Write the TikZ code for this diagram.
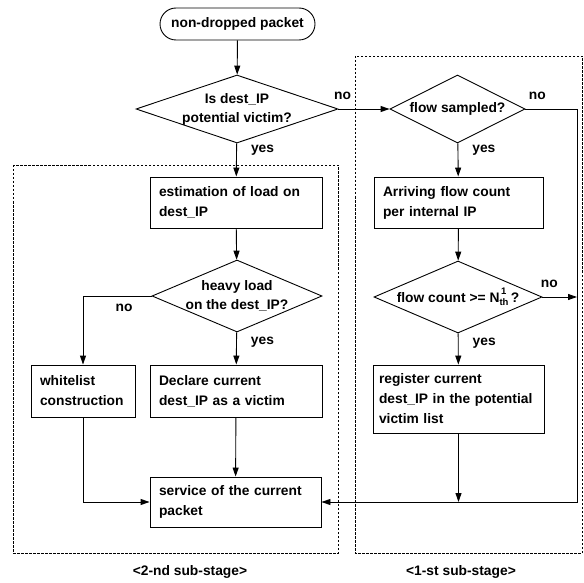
\documentclass[tikz,border=0pt]{standalone}
\usepackage{fontspec}
\setmainfont{Liberation Sans}
\usetikzlibrary{arrows.meta, positioning, shapes.geometric}
\tikzset{
  proc/.style={draw, inner xsep=9pt, inner ysep=0pt, align=left, minimum height=51pt,
               execute at begin node={\hyphenpenalty=10000}},
  term/.style={draw, rounded corners=16pt, minimum width=155pt, minimum height=32pt, inner sep=0pt},
  dec/.style={draw, diamond, inner sep=0pt},
  declbl/.style={align=center, inner sep=0pt, font=\bfseries\fontsize{13.8}{19}\selectfont},
  lbl/.style={inner sep=0pt},
  flow/.style={-{Triangle[length=9pt,width=6pt]}},
  stage/.style={dash pattern=on 2.5pt off 1.5pt, line width=0.6pt},
}
\begin{document}
\begin{tikzpicture}[x=1pt, y=-1pt, line width=0.9pt,
    every node/.style={font=\bfseries\fontsize{13.8}{20}\selectfont}]
    \useasboundingbox (0,0) rectangle (584,583);
    % sub-stage frames
    \draw[stage] (13,165) rectangle (338,553);
    \draw[stage] (355,56) rectangle (582,553);
    \node (lab2) at (190,572) {<2-nd sub-stage>};
    \node (lab1) at (461,572) {<1-st sub-stage>};
    % nodes
    \node[term] (start) at (237.5,24) {non-dropped packet};
    \node[dec, minimum width=202pt, minimum height=68pt,
          label={[declbl]center:Is dest\_IP\\potential victim?}] (victim) at (237,109) {};
    \node[dec, minimum width=135pt, minimum height=68pt,
          label={[declbl]center:flow sampled?}] (sampled) at (457.5,109) {};
    \node[proc, text width=154pt] (est) at (236,202.5) {estimation of load on\\dest\_IP};
    \node[proc, text width=151pt] (arr) at (458.5,202.5) {Arriving flow count\\per internal IP};
    \node[dec, minimum width=170pt, minimum height=72pt,
          label={[declbl]center:heavy load\\on the dest\_IP?}] (heavy) at (237,296) {};
    \node[dec, minimum width=168pt, minimum height=72pt,
          label={[declbl]center:flow count >= N\makebox[0pt][l]{\hspace{1.5pt}\raisebox{1.1ex}{\fontsize{9.5}{9.5}\selectfont 1}}\raisebox{-0.45ex}{\fontsize{9.5}{9.5}\selectfont th}\,?}] (thr) at (458,297) {};
    \node[proc, text width=86pt, minimum height=52pt] (white) at (83,391) {whitelist\\construction};
    \node[proc, text width=154pt, minimum height=52pt] (decl) at (236,391) {Declare current\\dest\_IP as a victim};
    \node[proc, inner xsep=6pt, text width=159pt, minimum height=68pt] (reg) at (458.5,399) {register current\\dest\_IP in the potential\\victim list};
    \node[proc, text width=153pt, minimum height=50pt] (svc) at (235.5,502) {service of the current\\packet};
    \coordinate (rc) at (577,109);
    \coordinate (rj) at (577,297);
    \coordinate (rb) at (458.5,502);
    % connectors
    \draw[flow] (start) -- (victim);
    \draw[flow] (victim) -- node[lbl, pos=0.2, right=14pt] {yes} (est);
    \draw[flow] (victim.east) -- node[lbl, pos=0.08, above=9pt] {no} (sampled.west);
    \draw[flow] (sampled) -- node[lbl, pos=0.2, right=14pt] {yes} (arr);
    \draw[flow] (arr) -- (thr);
    \draw[flow] (thr) -- node[lbl, pos=0.3, right=14pt] {yes} (reg);
    \draw[flow] (thr.east) -- node[lbl, pos=0.2, above=9pt] {no} (rj);
    \draw[flow] (sampled.east) -- node[lbl, pos=0.23, above=9pt] {no} (rc) |- (svc.east);
    \draw[flow] (reg) -- (rb);
    \draw[flow] (est) -- (heavy);
    \draw[flow] (heavy) -- node[lbl, pos=0.3, right=14pt] {yes} (decl);
    \draw[flow] (heavy.west) -| node[lbl, pos=0.2, below=8pt] {no} (white.north);
    \draw[flow] (white.south) |- (svc.west);
    \draw[flow] (decl) -- (svc);
\end{tikzpicture}
\end{document}
